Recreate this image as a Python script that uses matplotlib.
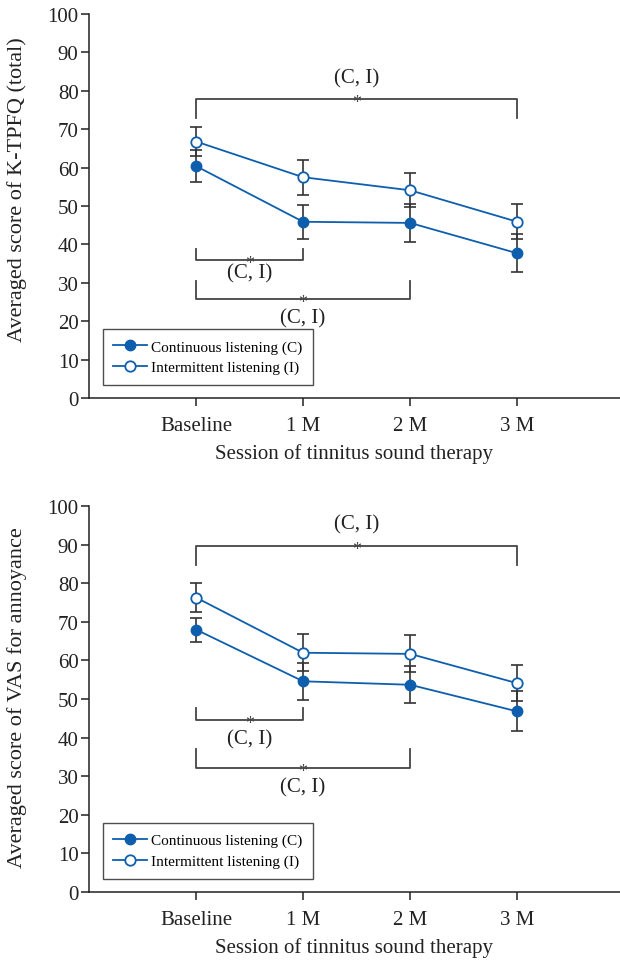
import matplotlib
matplotlib.use("Agg")
import matplotlib.pyplot as plt
from matplotlib.lines import Line2D

plt.rcParams['font.family'] = ['Liberation Serif', 'DejaVu Serif']

sessions = ["Baseline", "1 M", "2 M", "3 M"]
yticks = [0, 10, 20, 30, 40, 50, 60, 70, 80, 90, 100]

# Panel A: K-TPFQ (total)
tpfq_cont = [60.4, 45.9, 45.6, 37.7]
tpfq_cont_err = [4.2, 4.4, 4.9, 4.9]
tpfq_int = [66.8, 57.5, 54.1, 45.9]
tpfq_int_err = [3.9, 4.6, 4.4, 4.6]

# Panel B: VAS for annoyance
vas_cont = [68.0, 54.6, 53.7, 46.8]
vas_cont_err = [3.1, 4.8, 4.8, 5.2]
vas_int = [76.3, 62.0, 61.7, 54.1]
vas_int_err = [3.8, 4.8, 4.8, 4.6]

ylabels = ["Averaged score of K-TPFQ (total)", "Averaged score of VAS for annoyance"]
xlabel = "Session of tinnitus sound therapy"
legend_labels = ["Continuous listening (C)", "Intermittent listening (I)"]
sig_text = "(C, I)"

# brackets: (x0, x1, y_line, y_tip, text_y)
brackets_a = [(0, 3, 77.8, 72.8, 83.5), (0, 1, 36.0, 38.9, 32.6), (0, 2, 25.8, 30.6, 21.0)]
brackets_b = [(0, 3, 89.6, 84.7, 95.3), (0, 1, 44.6, 47.6, 39.6), (0, 2, 32.2, 37.0, 27.2)]

BLUE = '#0d5fad'
DARK = '#333333'
FS = 15

fig = plt.figure(figsize=(6.2, 9.62), dpi=100)
ax1 = fig.add_axes([0.1435, 0.5852, 0.8565, 0.3992])
ax2 = fig.add_axes([0.1435, 0.0717, 0.8565, 0.4012])

def draw(ax, cont, cont_err, inter, inter_err, brackets, ylabel, ylab_y):
    x = list(range(len(sessions)))
    ax.errorbar(x, cont, yerr=cont_err, fmt='none', ecolor=DARK, elinewidth=1.2,
                capsize=4, capthick=1.2, zorder=2)
    ax.errorbar(x, inter, yerr=inter_err, fmt='none', ecolor=DARK, elinewidth=1.2,
                capsize=4, capthick=1.2, zorder=2)
    ax.plot(x, cont, '-o', color=BLUE, lw=1.3, markersize=7.5, markerfacecolor=BLUE,
            markeredgecolor=BLUE, zorder=3)
    ax.plot(x, inter, '-o', color=BLUE, lw=1.3, markersize=7.5, markerfacecolor='white',
            markeredgecolor=BLUE, markeredgewidth=1.3, zorder=3)
    for (x0, x1, yl, yt, ty) in brackets:
        ax.plot([x0, x0, x1, x1], [yt, yl, yl, yt], color='#444444', lw=1.3, zorder=1)
        xm = (x0 + x1) / 2
        ax.text(xm, yl - 0.9, '*', ha='center', va='center', fontsize=13, color='#444444')
        ax.text(xm, ty, sig_text, ha='center', va='center', fontsize=FS, color='#222222')
    ax.set_xlim(-1, 3.96)
    ax.set_ylim(0, 100)
    ax.set_xticks(x)
    ax.set_xticklabels(sessions, fontsize=FS)
    ax.set_yticks(yticks)
    ax.set_yticklabels([str(v) for v in yticks], fontsize=FS)
    for s in ['top', 'right']:
        ax.spines[s].set_visible(False)
    for s in ['left', 'bottom']:
        ax.spines[s].set_color('#222222')
        ax.spines[s].set_linewidth(1.1)
    ax.tick_params(axis='both', direction='out', length=6, width=1.1, color='#222222',
                   labelcolor='#222222')
    ax.tick_params(axis='y', pad=1.5)
    ax.tick_params(axis='x', pad=7)
    ax.set_xlabel(xlabel, fontsize=FS, color='#222222', labelpad=6)
    ax.set_ylabel(ylabel, fontsize=16, color='#222222', va='center')
    ax.yaxis.set_label_coords(-0.135, ylab_y)
    handles = [
        Line2D([], [], color=BLUE, lw=1.3, marker='o', markersize=7.5,
               markerfacecolor=BLUE, markeredgecolor=BLUE),
        Line2D([], [], color=BLUE, lw=1.3, marker='o', markersize=7.5,
               markerfacecolor='white', markeredgecolor=BLUE, markeredgewidth=1.3),
    ]
    leg = ax.legend(handles, legend_labels, loc='lower left', bbox_to_anchor=(0.026, 0.034),
                    borderaxespad=0, fontsize=11, frameon=True, fancybox=False,
                    handlelength=2.2, handletextpad=0.25, borderpad=0.7, labelspacing=0.45)
    leg.get_frame().set_edgecolor('#222222')
    leg.get_frame().set_linewidth(1.0)

draw(ax1, tpfq_cont, tpfq_cont_err, tpfq_int, tpfq_int_err, brackets_a, ylabels[0], 0.545)
draw(ax2, vas_cont, vas_cont_err, vas_int, vas_int_err, brackets_b, ylabels[1], 0.505)

fig.savefig('out.png', dpi=100)
